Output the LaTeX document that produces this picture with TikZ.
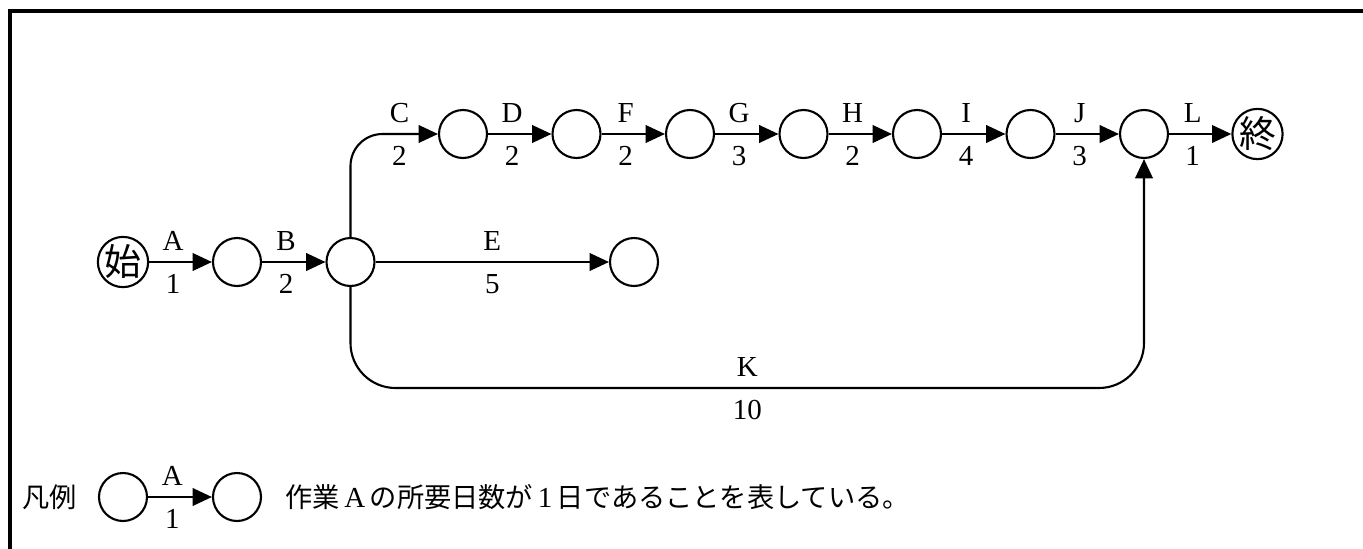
\documentclass[tikz,border=0pt]{standalone}
\usepackage{fontspec}
\newfontfamily\cjk{Noto Sans CJK JP}
\newfontfamily\labfont{Liberation Serif}
\usetikzlibrary{arrows.meta}

\tikzset{
	event/.style={draw, circle, line width=1.2pt, minimum size=0.96cm, inner sep=0pt},
	job/.style={line width=1.2pt, -{Triangle[length=11pt,width=10pt]}},
	jobname/.style={above=6pt, inner sep=0pt, font=\labfont\fontsize{16.5}{20}\selectfont},
	jobdays/.style={below=6.5pt, inner sep=0pt, font=\labfont\fontsize{16.5}{20}\selectfont},
	kanji/.style={font=\cjk\fontsize{21}{21}\selectfont},
	jtext/.style={inner sep=0pt, font=\cjk\fontsize{15.5}{18}\selectfont},
}

\begin{document}
\begin{tikzpicture}[x=0.02cm, y=-0.02cm]
			\useasboundingbox (0,0) rectangle (1363,548);
			% frame (only top and left edge are in the picture)
			\draw[line width=2pt] (10,600) -- (10,11) -- (1400,11);

			% events
			\node[event, kanji] (s0) at (123,262) {始};
			\node[event] (n1) at (237,262) {};
			\node[event] (n2) at (350.5,262) {};
			\node[event] (ne) at (634,262) {};
			\foreach \i/\x in {1/463, 2/576.5, 3/690, 4/803.5, 5/917, 6/1030.5, 7/1144}
				\node[event] (t\i) at (\x,134) {};
			\node[event, kanji] (fin) at (1257.5,134) {終};
			\coordinate (kbot) at (1144,388);

			% jobs
			\draw[job] (s0) -- node[jobname, pos=0.38] {A} node[jobdays, pos=0.38] {1} (n1);
			\draw[job] (n1) -- node[jobname, pos=0.38] {B} node[jobdays, pos=0.38] {2} (n2);
			\draw[job, rounded corners=0.64cm] (n2.north) |- node[jobname, pos=0.78] {C} node[jobdays, pos=0.78] {2} (t1.west);
			\draw[job] (n2) -- node[jobname] {E} node[jobdays] {5} (ne);
			\foreach \a/\b/\j/\d in {t1/t2/D/2, t2/t3/F/2, t3/t4/G/3, t4/t5/H/2, t5/t6/I/4, t6/t7/J/3, t7/fin/L/1}
				\draw[job] (\a) -- node[jobname, pos=0.38] {\j} node[jobdays, pos=0.38] {\d} (\b);
			\draw[job, rounded corners=0.9cm] (n2.south) |- node[jobname, pos=0.75] {K} node[jobdays, pos=0.75] {10} (kbot) -- (t7.south);

			% legend
			\node[jtext] (key) at (50,497) {凡例};
			\node[event] (la) at (123,497) {};
			\node[event] (lb) at (237,497) {};
			\draw[job] (la) -- node[jobname, pos=0.38] {A} node[jobdays, pos=0.38] {1} (lb);
			\node[jtext, anchor=west] (note) at (285,497) {作業\,{\labfont\fontsize{16.5}{20}\selectfont A}\,の所要日数が\,{\labfont\fontsize{16.5}{20}\selectfont 1}\,日であることを表している。};
		\end{tikzpicture}
\end{document}
